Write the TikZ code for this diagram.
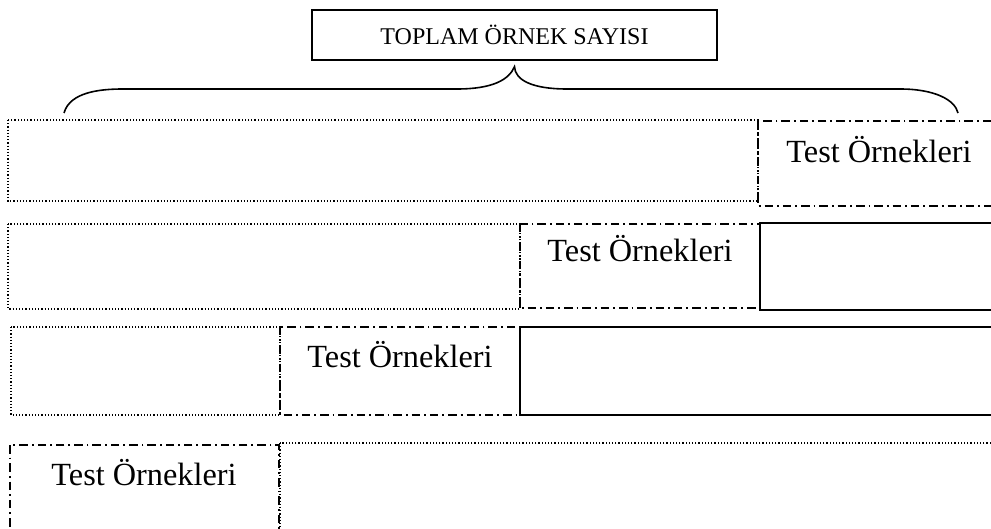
\documentclass[tikz,border=0pt]{standalone}
\usepackage{fontspec}
\setmainfont{Liberation Serif}
\tikzset{
  dotbox/.style={line width=1.3pt, dash pattern=on 1.2pt off 2pt},
  dashdotbox/.style={line width=1.4pt, dash pattern=on 8.5pt off 4pt on 1.8pt off 4pt},
  solidbox/.style={line width=1.8pt},
  bigtext/.style={font=\fontsize{32.3}{37}\selectfont, anchor=base, inner sep=0pt},
  totalbox/.style={draw, line width=1.3pt, minimum width=405pt, minimum height=50pt,
    inner sep=0pt, font=\fontsize{24}{28}\selectfont},
  brace/.style={line width=1.6pt}
}
\begin{document}
\begin{tikzpicture}[x=1pt,y=-1pt]
\useasboundingbox (0,0) rectangle (991,529);
\clip (0,0) rectangle (991,529);

% total sample count box
\node[totalbox] (total) at (514.5,35) {TOPLAM ÖRNEK SAYISI};

% curly brace spanning the first row
\coordinate (tip) at ([yshift=-6pt]total.south);
\coordinate (bl) at (64,113);
\coordinate (br) at (958,113);
\draw[brace] (bl) .. controls (70,92) and (100,89) .. (123,89) -- (457,89)
  .. controls (492,89) and (509,80) .. (tip)
  .. controls (515,80) and (532,89) .. (567,89) -- (900,89)
  .. controls (935,89) and (955,100) .. (br);

% row 1
\draw[dotbox] (8,120) rectangle (758,201);
\draw[dashdotbox] (758,121) rectangle (1000,206);
\node[bigtext] (t1) at (879,163) {Test Örnekleri};

% row 2
\draw[dotbox] (8,224) rectangle (520,309);
\draw[solidbox] (760,223) rectangle (1000,310);
\draw[dashdotbox] (520,224) rectangle (760,308);
\node[bigtext] (t2) at (640,262) {Test Örnekleri};

% row 3
\draw[dotbox] (11,327) rectangle (280,415);
\draw[solidbox] (520,327) rectangle (1000,415);
\draw[dashdotbox] (280,327) rectangle (520,415);
\node[bigtext] (t3) at (400,367) {Test Örnekleri};

% row 4
\draw[dotbox] (280,443) rectangle (1000,560);
\draw[dashdotbox] (10,445) rectangle (279,560);
\node[bigtext] (t4) at (144,485) {Test Örnekleri};
\end{tikzpicture}
\end{document}
